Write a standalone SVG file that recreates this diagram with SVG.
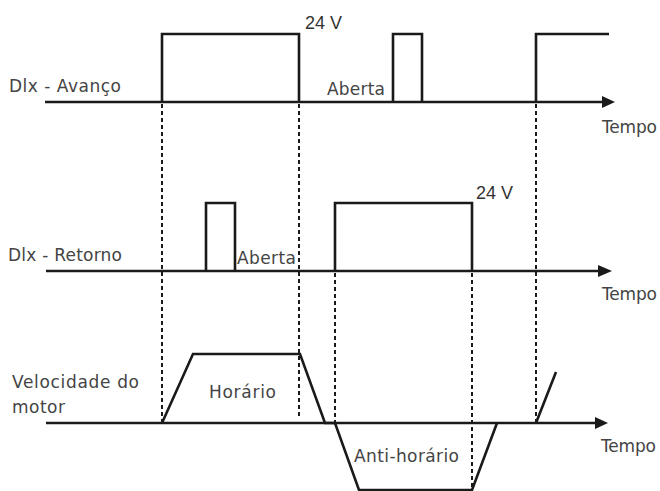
<svg xmlns="http://www.w3.org/2000/svg" width="660" height="491" viewBox="0 0 660 491">
<style>
.sig{fill:none;stroke:#1a1a1a;stroke-width:2.6;stroke-linejoin:miter}
.dash{fill:none;stroke:#1a1a1a;stroke-width:2;stroke-dasharray:4 3}
.lbl{font-family:"DejaVu Sans",sans-serif;font-size:17px;fill:#444}
.v{font-family:"Liberation Sans",Arial,sans-serif;font-size:18px;fill:#333}
.head{fill:#1a1a1a}
</style>
<g id="connectors">
<line class="dash" x1="162" y1="104" x2="162" y2="423"/>
<line class="dash" x1="299" y1="104" x2="299" y2="418"/>
<line class="dash" x1="335" y1="273" x2="335" y2="423"/>
<line class="dash" x1="472" y1="273" x2="472" y2="490"/>
<line class="dash" x1="536" y1="104" x2="536" y2="425"/>
</g>
<g id="sinal-avanco">
<line class="sig" x1="45" y1="102" x2="604" y2="102"/>
<polygon class="head" points="602,96 615,102 602,108"/>
<path class="sig" d="M162,102 V34 H299 V102 M393,102 V34 H422 V102 M536,102 V34 H609"/>
<text class="lbl" x="9" y="92" textLength="112">Dlx - Avanço</text>
<text class="v" x="305" y="29">24 V</text>
<text class="lbl" x="327" y="95" textLength="58">Aberta</text>
<text class="lbl" x="602" y="133" textLength="55">Tempo</text>
</g>
<g id="sinal-retorno">
<line class="sig" x1="46" y1="271" x2="600" y2="271"/>
<polygon class="head" points="598,265 612,271 598,277"/>
<path class="sig" d="M206,271 V203 H235 V271 M335,271 V203 H472 V271"/>
<text class="lbl" x="8" y="261" textLength="114">Dlx - Retorno</text>
<text class="lbl" x="237" y="264" textLength="59">Aberta</text>
<text class="v" x="476" y="199">24 V</text>
<text class="lbl" x="602" y="300" textLength="55">Tempo</text>
</g>
<g id="velocidade-motor">
<line class="sig" x1="46" y1="423" x2="597" y2="423"/>
<polygon class="head" points="595,417 608,423 595,429"/>
<path class="sig" d="M162,423 L193,354 H300 L325,423 H335 L359,490 H472 L497,423 M536,423 L556,372"/>
<text class="lbl" x="12" y="388" textLength="127">Velocidade do</text>
<text class="lbl" x="12" y="413" textLength="53">motor</text>
<text class="lbl" x="209" y="398" textLength="67">Horário</text>
<text class="lbl" x="354" y="462" textLength="105">Anti-horário</text>
<text class="lbl" x="601" y="452" textLength="55">Tempo</text>
</g>
</svg>
